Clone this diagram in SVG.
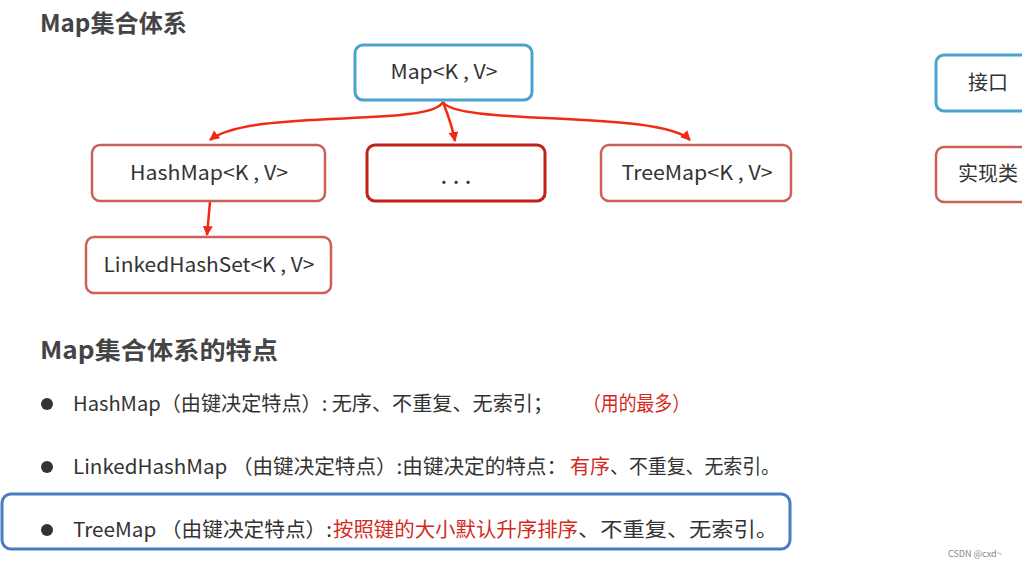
<svg xmlns="http://www.w3.org/2000/svg" width="1022" height="566" viewBox="0 0 1022 566">
<style>
.t{font-family:"Noto Sans CJK SC","Noto Sans",sans-serif;fill:#333}
.h{font-size:24px;font-weight:bold;fill:#444}
.n{font-size:20px;text-anchor:middle}
.b{font-size:20px}
.r{fill:#d42a1e}
.blue{fill:#fff;stroke:#4aa3cc;stroke-width:3}
.red{fill:#fff;stroke:#c9605a;stroke-width:2.5}
.dred{fill:#fff;stroke:#c0201a;stroke-width:3}
.c{fill:none;stroke:#f02a14;stroke-width:2.5}
</style>
<defs>
<marker id="ah" viewBox="0 0 10 10" refX="9" refY="5" markerWidth="4" markerHeight="4" orient="auto" markerUnits="strokeWidth">
<path d="M0,0 L10,5 L0,10 z" fill="#f02a14"/>
</marker>
</defs>
<rect width="1022" height="566" fill="#fff"/>
<text class="t h" x="40" y="32" textLength="147" lengthAdjust="spacingAndGlyphs">Map集合体系</text>
<g id="connectors">
<path class="c" d="M443,102 C430,128 250,108 210,140" marker-end="url(#ah)"/>
<path class="c" d="M443,102 C448,115 452,125 455,141" marker-end="url(#ah)"/>
<path class="c" d="M443,102 C456,126 660,110 690,140" marker-end="url(#ah)"/>
<path class="c" d="M210,202 L207,235" marker-end="url(#ah)"/>
</g>
<g id="map"><rect class="blue" x="355" y="45" width="177" height="55" rx="8"/><text class="t n" x="444" y="79" textLength="107" lengthAdjust="spacingAndGlyphs">Map&lt;K , V&gt;</text></g>
<g id="hashmap"><rect class="red" x="92" y="145" width="233" height="56" rx="8"/><text class="t n" x="209" y="180" textLength="158" lengthAdjust="spacingAndGlyphs">HashMap&lt;K , V&gt;</text></g>
<g id="etc"><rect class="dred" x="367" y="145" width="178" height="56" rx="8"/><text class="t n" x="456" y="184" style="font-size:24px">. . .</text></g>
<g id="treemap"><rect class="red" x="601" y="145" width="190" height="56" rx="8"/><text class="t n" x="697" y="180" textLength="151" lengthAdjust="spacingAndGlyphs">TreeMap&lt;K , V&gt;</text></g>
<g id="linked"><rect class="red" x="86" y="237" width="245" height="56" rx="8"/><text class="t n" x="209" y="272" textLength="211" lengthAdjust="spacingAndGlyphs">LinkedHashSet&lt;K , V&gt;</text></g>
<g id="legend-interface"><rect class="blue" x="936" y="55" width="100" height="56" rx="8"/><text class="t n" x="988" y="90">接口</text></g>
<g id="legend-impl"><rect class="red" x="936" y="147" width="100" height="55" rx="8"/><text class="t n" x="988" y="181">实现类</text></g>
<text class="t h" x="40" y="359" textLength="238" lengthAdjust="spacingAndGlyphs">Map集合体系的特点</text>
<circle cx="47" cy="404" r="6" fill="#333"/>
<text class="t b" x="73" y="411" textLength="480" lengthAdjust="spacingAndGlyphs">HashMap（由键决定特点）: 无序、不重复、无索引；</text>
<text class="t b r" x="583" y="411" textLength="107" lengthAdjust="spacingAndGlyphs">（用的最多）</text>
<circle cx="47" cy="467" r="6" fill="#333"/>
<text class="t b" x="73" y="474" textLength="494" lengthAdjust="spacingAndGlyphs">LinkedHashMap （由键决定特点）:由键决定的特点：</text>
<text class="t b r" x="570" y="474" textLength="40" lengthAdjust="spacingAndGlyphs">有序</text>
<text class="t b" x="610" y="474" textLength="170" lengthAdjust="spacingAndGlyphs">、不重复、无索引。</text>
<rect x="2" y="494" width="788" height="55" rx="9" fill="none" stroke="#4a7cc0" stroke-width="3"/>
<circle cx="47" cy="530" r="6" fill="#333"/>
<text class="t b" x="73" y="537" textLength="259" lengthAdjust="spacingAndGlyphs">TreeMap （由键决定特点）:</text>
<text class="t b r" x="333" y="537" textLength="245" lengthAdjust="spacingAndGlyphs">按照键的大小默认升序排序</text>
<text class="t b" x="578" y="537" textLength="200" lengthAdjust="spacingAndGlyphs">、不重复、无索引。</text>
<text class="t" x="948" y="557" style="font-size:9px;fill:#888">CSDN @cxd~</text>
</svg>
